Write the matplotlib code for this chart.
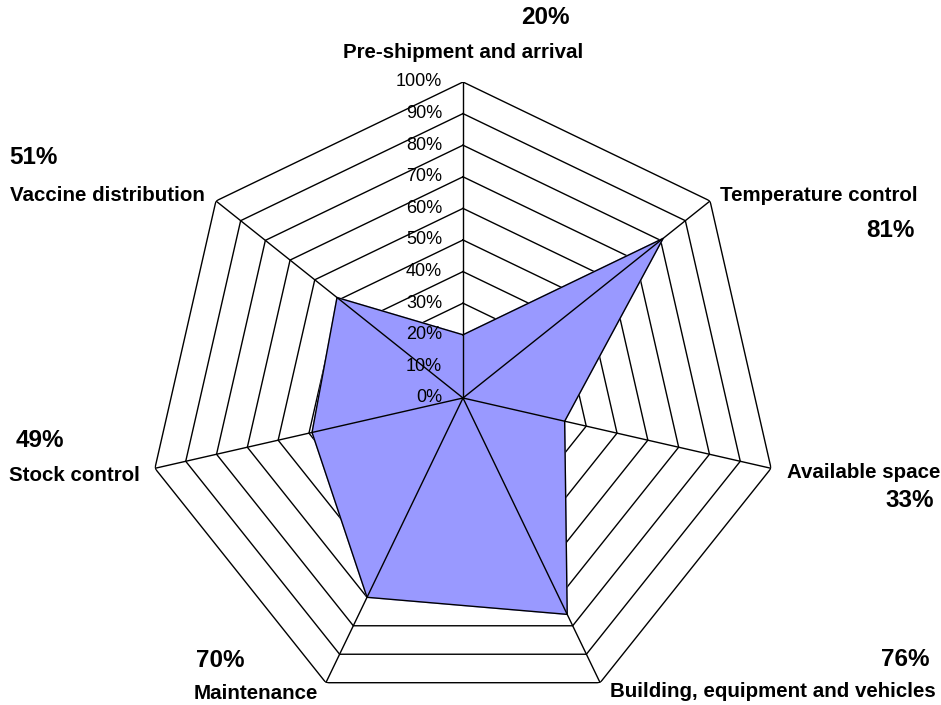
import matplotlib.pyplot as plt
import numpy as np

plt.rcParams['font.family'] = ['Liberation Sans', 'DejaVu Sans']

categories = ['Pre-shipment and arrival', 'Temperature control', 'Available space',
              'Building, equipment and vehicles', 'Maintenance', 'Stock control',
              'Vaccine distribution']
scores = [20, 81, 33, 76, 70, 49, 51]
ring_levels = [10, 20, 30, 40, 50, 60, 70, 80, 90, 100]

# label placement around each vertex: (dx, dy, ha) in pixels
label_offsets = [(0, 29, 'center'), (10, 5, 'left'), (16, -4, 'left'), (10, -9, 'left'),
                 (-8, -11, 'right'), (-15, -7, 'right'), (-11, 5, 'right')]
pct_offsets = [(82, 64, 'center'), (205, -30, 'right'), (163, -32, 'right'),
               (329, 23, 'right'), (-130, 22, 'left'), (-139, 28, 'left'), (-207, 43, 'left')]

n = len(categories)
angles = np.arange(n) * 2 * np.pi / n
closed = np.append(angles, angles[0])

fig = plt.figure(figsize=(9.41, 7.05), dpi=100)
R = 316
ax = fig.add_axes([(463 - R) / 941, (705 - 398 - R) / 705, 2 * R / 941, 2 * R / 705],
                  projection='polar')
ax.set_theta_zero_location('N')
ax.set_theta_direction(-1)
ax.set_ylim(0, 100)
ax.axis('off')

# heptagon rings
for lvl in ring_levels:
    ax.plot(closed, [lvl] * (n + 1), color='black', lw=1.0, zorder=1)

# filled data polygon
vals = np.append(scores, scores[0])
ax.fill(closed, vals, color='#9999FF', zorder=2)
ax.plot(closed, vals, color='black', lw=1.0, zorder=3)

# spokes
for a in angles:
    ax.plot([a, a], [0, 100], color='black', lw=1.0, zorder=4)

# radial tick labels
for lvl in [0] + ring_levels:
    ax.annotate(f'{lvl}%', xy=(0, lvl), xytext=(-21, 0), textcoords='offset pixels',
                ha='right', va='center', fontsize=13, zorder=5)

# category names and percentages
for i in range(n):
    dx, dy, ha = label_offsets[i]
    ax.annotate(categories[i], xy=(angles[i], 100), xytext=(dx, dy),
                textcoords='offset pixels', ha=ha, va='center',
                fontsize=14.8, fontweight='bold', annotation_clip=False)
    dx, dy, ha = pct_offsets[i]
    ax.annotate(f'{scores[i]}%', xy=(angles[i], 100), xytext=(dx, dy),
                textcoords='offset pixels', ha=ha, va='center',
                fontsize=17.5, fontweight='bold', annotation_clip=False)

fig.savefig('out.png', dpi=100, facecolor='white')
